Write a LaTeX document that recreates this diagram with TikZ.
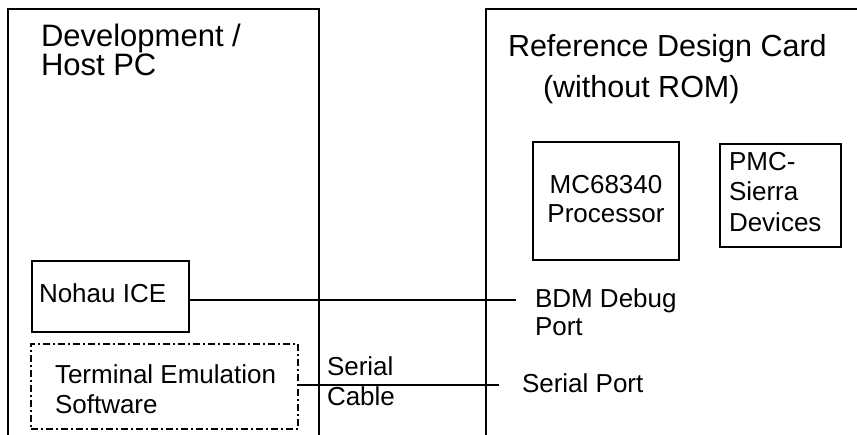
\documentclass[tikz,border=0pt]{standalone}
\usepackage{fontspec}
\setmainfont{Liberation Sans}
\begin{document}
\begin{tikzpicture}[x=1pt,y=-1pt,
  box/.style={draw, line width=2pt, rectangle, inner sep=0pt, outer sep=0pt},
  bigbox/.style={draw, line width=2.4pt, rectangle, inner sep=0pt, outer sep=0pt},
  ddbox/.style={box, line width=1.8pt, dash pattern=on 7pt off 3pt on 2pt off 3pt},
  lbl/.style={inner sep=0pt, outer sep=0pt, align=left, font=\fontsize{26}{30}\selectfont},
  ttl/.style={inner sep=0pt, outer sep=0pt, align=left, font=\fontsize{31}{29}\selectfont},
  wire/.style={line width=2pt}]
\useasboundingbox (0,0) rectangle (857,434);
\clip (0,0) rectangle (857,434);
% containers
\node[bigbox, minimum width=311pt, minimum height=460pt] (host) at (163.5,239) {};
\node[bigbox, minimum width=420pt, minimum height=460pt] (card) at (696,239) {};
% inner boxes
\node[box, minimum width=157pt, minimum height=71pt] (ice) at (110,296.5) {};
\node[ddbox, minimum width=267pt, minimum height=85pt] (term) at (164.5,386.5) {};
\node[box, minimum width=146pt, minimum height=118pt] (cpu) at (606,201) {};
\node[box, minimum width=121pt, minimum height=103pt] (pmc) at (780.5,195.5) {};
% labels (base anchor = baseline of the last line)
\node[ttl, anchor=base west] (hostlbl) at (41,75) {Development /\\Host PC};
\node[ttl, anchor=base west, font=\fontsize{30.5}{41}\selectfont] (cardlbl) at (508,97) {Reference Design Card\\\hspace*{35pt}(without ROM)};
\node[lbl, anchor=base west] (icelbl) at (39,302) {Nohau ICE};
\node[lbl, anchor=base west] (termlbl) at (55,413) {Terminal Emulation\\Software};
\node[lbl, anchor=base, align=center, font=\fontsize{26}{29}\selectfont] (cpulbl) at (606,222) {MC68340\\Processor};
\node[lbl, anchor=base west, font=\fontsize{26}{30.5}\selectfont] (pmclbl) at (729,231) {PMC-\\Sierra\\Devices};
\node[lbl, anchor=base west] (cablelbl) at (327,405) {Serial\\Cable};
\node[lbl, anchor=base west, font=\fontsize{26}{28}\selectfont] (bdmlbl) at (535,335) {BDM Debug\\Port};
\node[lbl, anchor=base west] (serlbl) at (522,392) {Serial Port};
% connectors
\coordinate (bdmend) at (516,300);
\coordinate (serend) at (499,385);
\draw[wire] (ice.east |- bdmend) -- (bdmend);
\draw[wire] (term.east |- serend) -- (serend);
\end{tikzpicture}
\end{document}
